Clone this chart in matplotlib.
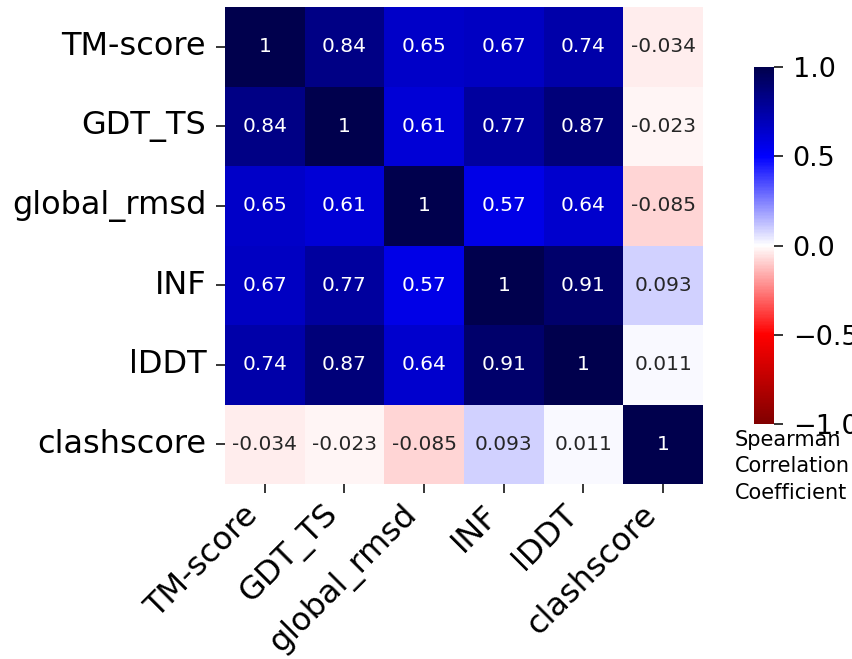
import numpy as np
import pandas as pd
import matplotlib
matplotlib.use('Agg')
import matplotlib.pyplot as plt
import seaborn as sns

metrics = ['TM-score', 'GDT_TS', 'global_rmsd', 'INF', 'lDDT', 'clashscore']

tm_score = [1, 0.84, 0.65, 0.67, 0.74, -0.034]
gdt_ts = [0.84, 1, 0.61, 0.77, 0.87, -0.023]
global_rmsd = [0.65, 0.61, 1, 0.57, 0.64, -0.085]
inf = [0.67, 0.77, 0.57, 1, 0.91, 0.093]
lddt = [0.74, 0.87, 0.64, 0.91, 1, 0.011]
clashscore = [-0.034, -0.023, -0.085, 0.093, 0.011, 1]

corr = pd.DataFrame([tm_score, gdt_ts, global_rmsd, inf, lddt, clashscore],
                    index=metrics, columns=metrics)

W, H = 853, 659
fig = plt.figure(figsize=(W / 100, H / 100), dpi=100)
ax = fig.add_axes([225 / W, (H - 484) / H, 478 / W, 477 / H])
cax = fig.add_axes([754 / W, (H - 424) / H, 20 / W, 357 / H])

sns.heatmap(corr, ax=ax, cbar_ax=cax, annot=True, cmap='seismic_r', vmin=-1, vmax=1,
            annot_kws={'size': 14.5})

ax.set_xticklabels(metrics, rotation=45, ha='right', fontsize=23)
ax.set_yticklabels(metrics, rotation=0, fontsize=23)
ax.tick_params(axis='both', length=6.5, width=1.1)
ax.tick_params(axis='x', pad=4.5)
ax.tick_params(axis='y', pad=7)

cax.set_yticks([-1.0, -0.5, 0.0, 0.5, 1.0])
cax.tick_params(labelsize=19.5, length=6.5, width=1.1, pad=7)

fig.text(735 / W, 1 - 430 / H, 'Spearman\nCorrelation\nCoefficient',
         ha='left', va='top', fontsize=15, linespacing=1.4)

fig.savefig('out.png', dpi=100)
